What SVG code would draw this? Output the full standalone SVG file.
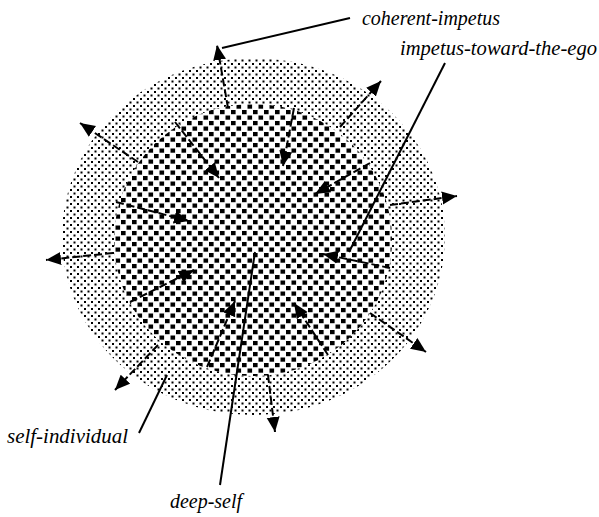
<svg xmlns="http://www.w3.org/2000/svg" width="599" height="517" viewBox="0 0 599 517">
<style>
.dash{stroke:#000;stroke-width:2;fill:none;stroke-dasharray:8 3;marker-end:url(#ah)}
.lead{stroke:#000;stroke-width:2;fill:none}
</style>
<defs>
<pattern id="fine" patternUnits="userSpaceOnUse" width="7" height="7">
<rect x="0" y="0" width="2" height="2" fill="#000"/>
<rect x="3.5" y="3.5" width="2" height="2" fill="#000"/>
</pattern>
<pattern id="coarse" patternUnits="userSpaceOnUse" width="11" height="11">
<rect x="0" y="0" width="4.6" height="4.2" fill="#000"/>
<rect x="5.5" y="5.5" width="4.6" height="4.2" fill="#000"/>
</pattern>
<marker id="ah" markerUnits="userSpaceOnUse" markerWidth="17" markerHeight="14" refX="15" refY="7" orient="auto">
<path d="M0,0.5 L15,7 L0,13.5 z" fill="#000"/>
</marker>
</defs>
<rect width="599" height="517" fill="#fff"/>
<g id="self-individual-region">
<ellipse cx="253.5" cy="236.5" rx="191.5" ry="178.5" fill="url(#fine)"/>
</g>
<g id="deep-self-region">
<ellipse cx="253" cy="240" rx="139" ry="136" fill="#fff"/>
<ellipse cx="253" cy="240" rx="139" ry="136" fill="url(#coarse)"/>
</g>
<g id="connectors">
<path class="dash" d="M175,122 L219,178"/>
<path class="dash" d="M294,108 L283,166"/>
<path class="dash" d="M370,163 L315,194"/>
<path class="dash" d="M116,202 L189,221"/>
<path class="dash" d="M390,268 L323,254"/>
<path class="dash" d="M130,302 L194,270"/>
<path class="dash" d="M207,367 L235,301"/>
<path class="dash" d="M328,355 L294,303"/>
<path class="dash" d="M228,108 L217,45"/>
<path class="dash" d="M340,127 L381,81"/>
<path class="dash" d="M138,162 L80,123"/>
<path class="dash" d="M113,253 L46,260"/>
<path class="dash" d="M390,205 L457,196"/>
<path class="dash" d="M158,345 L115,390"/>
<path class="dash" d="M268,375 L275,432"/>
<path class="dash" d="M370,313 L426,352"/>
<path class="lead" d="M350,18 L222,48"/>
<path class="lead" d="M445,63 L349,252"/>
<path class="lead" d="M139,433 L167,375"/>
<path class="lead" d="M220,485 L255,252"/>
</g>
<g id="labels" font-family="Liberation Serif, DejaVu Serif, serif" font-style="italic" font-size="20" fill="#000">
<g id="label-coherent-impetus"><text x="362" y="25" textLength="138" lengthAdjust="spacingAndGlyphs">coherent-impetus</text></g>
<g id="label-impetus-toward-the-ego"><text x="400" y="55" textLength="197" lengthAdjust="spacingAndGlyphs">impetus-toward-the-ego</text></g>
<g id="label-self-individual"><text x="7" y="443" textLength="121" lengthAdjust="spacingAndGlyphs">self-individual</text></g>
<g id="label-deep-self"><text x="170" y="508" textLength="72" lengthAdjust="spacingAndGlyphs">deep-self</text></g>
</g>
</svg>
